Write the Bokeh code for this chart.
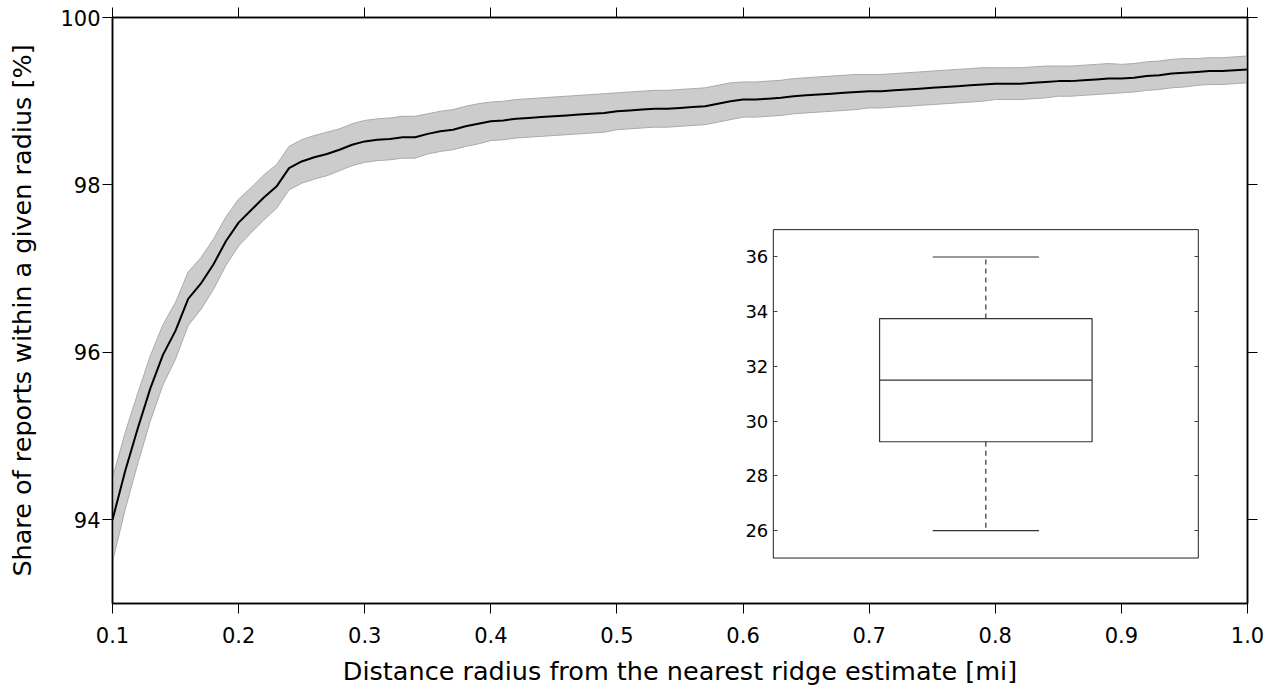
from bokeh.plotting import figure
from bokeh.models import (Range1d, LinearAxis, SingleIntervalTicker, FixedTicker,
                          PrintfTickFormatter, CustomJSTickFormatter, ColumnDataSource)
from bokeh.embed import file_html
from bokeh.resources import INLINE

# ---------------- data ----------------
radius = [round(0.10 + 0.01 * i, 2) for i in range(91)]

share_mean = [94.00, 94.58, 95.09, 95.57, 95.97, 96.26, 96.64, 96.82, 97.05, 97.33,
              97.55, 97.70, 97.85, 97.98, 98.20, 98.28, 98.33, 98.37, 98.42, 98.48,
              98.52, 98.54, 98.55, 98.57, 98.57, 98.61, 98.64, 98.66, 98.70, 98.73,
              98.76, 98.77, 98.79, 98.80, 98.81, 98.82, 98.83, 98.84, 98.85, 98.86,
              98.88, 98.89, 98.90, 98.91, 98.91, 98.92, 98.93, 98.94, 98.97, 99.00,
              99.02, 99.02, 99.03, 99.04, 99.06, 99.07, 99.08, 99.09, 99.10, 99.11,
              99.12, 99.12, 99.13, 99.14, 99.15, 99.16, 99.17, 99.18, 99.19, 99.20,
              99.21, 99.21, 99.21, 99.22, 99.23, 99.24, 99.24, 99.25, 99.26, 99.27,
              99.27, 99.28, 99.30, 99.31, 99.33, 99.34, 99.35, 99.36, 99.36, 99.37, 99.38]

share_upper = [94.50, 95.04, 95.51, 95.96, 96.33, 96.60, 96.96, 97.13, 97.35, 97.62,
               97.83, 97.97, 98.12, 98.24, 98.46, 98.54, 98.59, 98.63, 98.67, 98.73,
               98.77, 98.79, 98.80, 98.82, 98.82, 98.85, 98.88, 98.90, 98.94, 98.97,
               98.99, 99.00, 99.02, 99.03, 99.04, 99.05, 99.06, 99.07, 99.08, 99.09,
               99.10, 99.11, 99.12, 99.13, 99.13, 99.14, 99.15, 99.16, 99.19, 99.22,
               99.23, 99.23, 99.24, 99.25, 99.27, 99.28, 99.29, 99.30, 99.31, 99.32,
               99.32, 99.32, 99.33, 99.34, 99.35, 99.36, 99.37, 99.38, 99.39, 99.40,
               99.40, 99.40, 99.40, 99.41, 99.42, 99.42, 99.42, 99.43, 99.44, 99.45,
               99.44, 99.45, 99.47, 99.48, 99.50, 99.51, 99.51, 99.52, 99.52, 99.53, 99.54]

share_lower = [93.50, 94.12, 94.67, 95.18, 95.61, 95.92, 96.32, 96.51, 96.75, 97.04,
               97.27, 97.43, 97.58, 97.72, 97.94, 98.02, 98.07, 98.11, 98.17, 98.23,
               98.27, 98.29, 98.30, 98.32, 98.32, 98.37, 98.40, 98.42, 98.46, 98.49,
               98.53, 98.54, 98.56, 98.57, 98.58, 98.59, 98.60, 98.61, 98.62, 98.63,
               98.66, 98.67, 98.68, 98.69, 98.69, 98.70, 98.71, 98.72, 98.75, 98.78,
               98.81, 98.81, 98.82, 98.83, 98.85, 98.86, 98.87, 98.88, 98.89, 98.90,
               98.92, 98.92, 98.93, 98.94, 98.95, 98.96, 98.97, 98.98, 98.99, 99.00,
               99.02, 99.02, 99.02, 99.03, 99.04, 99.06, 99.06, 99.07, 99.08, 99.09,
               99.10, 99.11, 99.13, 99.14, 99.16, 99.17, 99.19, 99.20, 99.20, 99.21, 99.22]

# inset box plot statistics
box_pos = [1]
box_q1 = [29.25]
box_median = [31.5]
box_q3 = [33.75]
box_lo = [26.0]
box_hi = [36.0]

x_ticks = [0.1, 0.2, 0.3, 0.4, 0.5, 0.6, 0.7, 0.8, 0.9, 1.0]
inset_ticks = [26, 28, 30, 32, 34, 36]

FONT = "DejaVu Sans"

# ---------------- main figure ----------------
p = figure(width=1274, height=688, output_backend="svg", toolbar_location=None,
           x_range=Range1d(0.1, 1.0), y_range=Range1d(93, 100),
           min_border_left=112, min_border_right=27, min_border_top=17, min_border_bottom=85)
p.background_fill_color = "white"
p.border_fill_color = "white"
p.outline_line_color = "black"
p.outline_line_width = 1.5
p.xgrid.visible = False
p.ygrid.visible = False

src = ColumnDataSource(dict(x=radius, m=share_mean, lo=share_lower, hi=share_upper))
p.varea(x="x", y1="lo", y2="hi", source=src, fill_color="#cccccc", fill_alpha=1.0)
p.line(x="x", y="hi", source=src, line_color="#aaaaaa", line_width=1)
p.line(x="x", y="lo", source=src, line_color="#aaaaaa", line_width=1)
p.line(x="x", y="m", source=src, line_color="black", line_width=2)

blank = CustomJSTickFormatter(code="return ''")

def style_main_axis(ax, labels=True):
    ax.major_tick_out = 10
    ax.major_tick_in = 0
    ax.minor_tick_line_color = None
    ax.major_tick_line_color = "black"
    ax.major_tick_line_width = 1
    ax.axis_line_color = "black"
    ax.axis_line_width = 1.5
    ax.major_label_text_font = FONT
    ax.major_label_text_font_size = "21px"
    ax.major_label_text_color = "black"
    ax.axis_label_text_font = FONT
    ax.axis_label_text_font_size = "25.5px"
    ax.axis_label_text_font_style = "normal"
    ax.axis_label_text_color = "black"
    if not labels:
        ax.formatter = blank
        ax.major_label_standoff = 0

xt = FixedTicker(ticks=x_ticks)
yt = SingleIntervalTicker(interval=2)

p.xaxis.ticker = xt
p.xaxis.formatter = PrintfTickFormatter(format="%.1f")
p.xaxis.axis_label = "Distance radius from the nearest ridge estimate [mi]"
p.yaxis.ticker = yt
p.yaxis.axis_label = "Share of reports within a given radius [%]"
style_main_axis(p.xaxis[0])
style_main_axis(p.yaxis[0])
p.xaxis.major_label_standoff = 13
p.xaxis.axis_label_standoff = 10
p.yaxis.major_label_standoff = 2
p.yaxis.axis_label_standoff = 20

top_ax = LinearAxis(ticker=FixedTicker(ticks=x_ticks))
style_main_axis(top_ax, labels=False)
p.add_layout(top_ax, "above")
right_ax = LinearAxis(ticker=SingleIntervalTicker(interval=2))
style_main_axis(right_ax, labels=False)
p.add_layout(right_ax, "right")

# ---------------- inset (box plot) ----------------
# inset frame occupies main-data box [0.624, 0.961] x [93.54, 97.47]
ix0, ix1 = 0.624, 0.961
iy0, iy1 = 93.543, 97.466
isx = (1.5 - 0.5) / (ix1 - ix0)
isy = (37 - 25) / (iy1 - iy0)
p.extra_x_ranges = {"ix": Range1d(0.5 - (ix0 - 0.1) * isx, 1.5 + (1.0 - ix1) * isx)}
p.extra_y_ranges = {"iy": Range1d(25 - (iy0 - 93) * isy, 37 + (100 - iy1) * isy)}

kw = dict(x_range_name="ix", y_range_name="iy")
p.quad(left=[0.5], right=[1.5], bottom=[25], top=[37], fill_color="white",
       line_color="#222222", line_width=1, **kw)

bsrc = ColumnDataSource(dict(pos=box_pos, q1=box_q1, med=box_median, q3=box_q3,
                             lo=box_lo, hi=box_hi,
                             bl=[b - 0.25 for b in box_pos], br=[b + 0.25 for b in box_pos],
                             cl=[b - 0.125 for b in box_pos], cr=[b + 0.125 for b in box_pos]))
BOXC = "#333333"
p.quad(left="bl", right="br", bottom="q1", top="q3", source=bsrc, fill_color="white",
       line_color=BOXC, line_width=1.2, **kw)
p.segment(x0="bl", x1="br", y0="med", y1="med", source=bsrc, line_color=BOXC, line_width=1.2, **kw)
p.segment(x0="pos", x1="pos", y0="q3", y1="hi", source=bsrc, line_color=BOXC, line_width=1.2,
          line_dash="5 4", **kw)
p.segment(x0="pos", x1="pos", y0="q1", y1="lo", source=bsrc, line_color=BOXC, line_width=1.2,
          line_dash="5 4", **kw)
p.segment(x0="cl", x1="cr", y0="hi", y1="hi", source=bsrc, line_color=BOXC, line_width=1.2, **kw)
p.segment(x0="cl", x1="cr", y0="lo", y1="lo", source=bsrc, line_color=BOXC, line_width=1.2, **kw)

def style_inset_axis(ax, labels=True):
    ax.ticker = FixedTicker(ticks=inset_ticks)
    ax.bounds = (25, 37)
    ax.axis_line_color = None
    ax.major_tick_in = 4
    ax.major_tick_out = 0
    ax.major_tick_line_color = "#444444"
    ax.minor_tick_line_color = None
    ax.major_label_text_font = FONT
    ax.major_label_text_font_size = "18px"
    ax.major_label_text_color = "black"
    ax.major_label_standoff = 5
    if not labels:
        ax.formatter = blank

in_left = LinearAxis(fixed_location=0.5, **kw)
style_inset_axis(in_left)
p.add_layout(in_left, "left")
in_right = LinearAxis(fixed_location=1.5, **kw)
style_inset_axis(in_right, labels=False)
p.add_layout(in_right, "right")

open("out.html", "w").write(file_html(p, INLINE))
